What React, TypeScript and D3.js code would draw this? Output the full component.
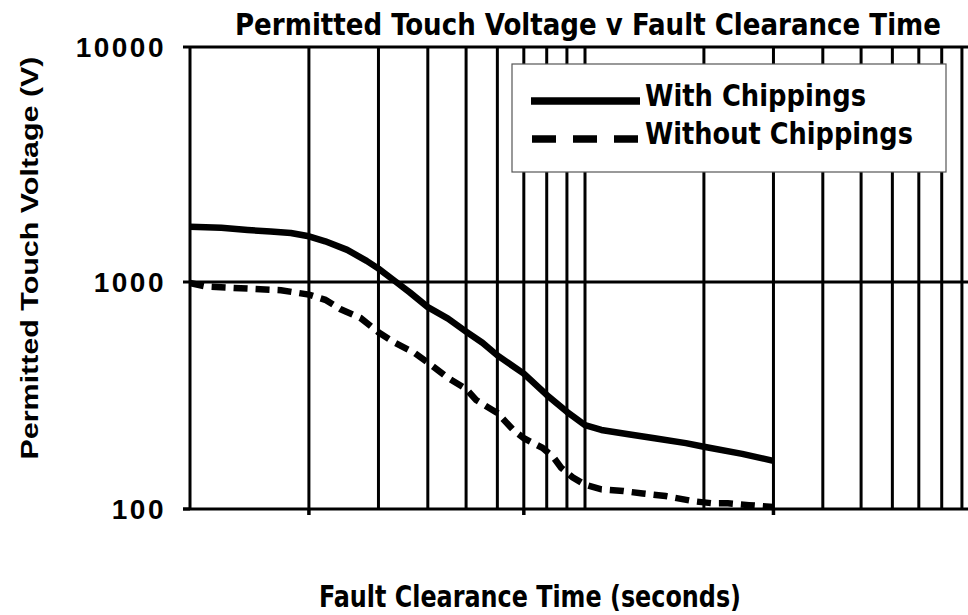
import * as d3 from "d3";

const W = 968;
const H = 615;

const chartTitle = "Permitted Touch Voltage v Fault Clearance Time";
const xTitle = "Fault Clearance Time (seconds)";
const yTitle = "Permitted Touch Voltage (V)";

const yTickValues = [100, 1000, 10000];
const yTickLabels = ["100", "1000", "10000"];
const xGridValues = [
  0.2, 0.3, 0.4, 0.5, 0.6, 0.7, 0.8, 0.9, 1, 2, 3, 4, 5, 6, 7, 8, 9,
];
const xTickMarks = [0.2, 0.7, 3];

const seriesNames = ["With Chippings", "Without Chippings"];

// fault clearance time (s) / permitted touch voltage (V)
const withTime = [
  0.1, 0.12, 0.14, 0.16, 0.18, 0.2, 0.22, 0.25, 0.28, 0.3, 0.33, 0.36, 0.4,
  0.45, 0.5, 0.55, 0.6, 0.7, 0.8, 0.9, 1.0, 1.1, 1.3, 1.5, 1.8, 2, 2.5, 3,
];
const withVolts = [
  1720, 1700, 1665, 1640, 1617, 1565, 1490, 1370, 1230, 1140, 1010, 900, 775,
  690, 605, 540, 475, 395, 318, 268, 234, 223, 213, 205, 195, 188, 175, 163,
];

const withoutTime = [
  0.1, 0.11, 0.14, 0.17, 0.2, 0.22, 0.24, 0.27, 0.3, 0.33, 0.37, 0.4, 0.45,
  0.5, 0.53, 0.6, 0.66, 0.7, 0.78, 0.83, 0.87, 0.93, 1.0, 1.1, 1.25, 1.4, 1.6,
  1.9, 2.1, 2.3, 2.6, 3,
];
const withoutVolts = [
  990, 955, 935, 920, 880, 835, 760, 695, 600, 540, 487, 442, 378, 338, 302,
  265, 222, 205, 186, 170, 152, 138, 128, 122, 120, 117, 114, 108, 106, 106,
  104, 102,
];

const condensed = "'Liberation Sans Narrow', 'DejaVu Sans Condensed', sans-serif";
const plain = "'Liberation Sans', Arial, sans-serif";

export default function App() {
  const left = 190;
  const right = 980; // plot runs past the cropped right edge
  const top = 47;
  const bottom = 509;

  const x = d3.scaleLog().domain([0.1, 10]).range([left, right]);
  const y = d3
    .scaleLog()
    .domain([100, 1000, 10000])
    .range([bottom, 282, top]);

  const line = d3
    .line<[number, number]>()
    .x((d) => x(d[0]))
    .y((d) => y(d[1]));

  const withPts = withTime.map((t, i) => [t, withVolts[i]] as [number, number]);
  const withoutPts = withoutTime.map(
    (t, i) => [t, withoutVolts[i]] as [number, number]
  );

  const grid = "#000";
  const gw = 3;

  return (
    <svg
      width={W}
      height={H}
      viewBox={`0 0 ${W} ${H}`}
      style={{ position: "absolute", left: 0, top: 0, background: "#fff" }}
    >
      <rect x={0} y={0} width={W} height={H} fill="#fff" />

      {/* title */}
      <text
        x={588}
        y={35}
        textAnchor="middle"
        fontFamily={condensed}
        fontWeight="bold"
        fontSize={30}
        textLength={706}
        lengthAdjust="spacingAndGlyphs"
      >
        {chartTitle}
      </text>

      {/* vertical grid */}
      {xGridValues.map((v) => (
        <line
          key={v}
          x1={x(v)}
          x2={x(v)}
          y1={top}
          y2={bottom}
          stroke={grid}
          strokeWidth={gw}
        />
      ))}
      {xTickMarks.map((v) => (
        <line
          key={"t" + v}
          x1={x(v)}
          x2={x(v)}
          y1={bottom}
          y2={bottom + 6}
          stroke={grid}
          strokeWidth={gw + 0.5}
        />
      ))}

      {/* horizontal grid */}
      <line
        x1={left}
        x2={W}
        y1={y(1000)}
        y2={y(1000)}
        stroke={grid}
        strokeWidth={gw}
      />

      {/* frame */}
      <line x1={left} x2={W} y1={top} y2={top} stroke={grid} strokeWidth={3} />
      <line
        x1={left - 7}
        x2={W}
        y1={bottom}
        y2={bottom}
        stroke={grid}
        strokeWidth={3}
      />
      <line x1={left} x2={left} y1={top} y2={bottom} stroke={grid} strokeWidth={3} />

      {/* y ticks and labels */}
      {yTickValues.map((v, i) => (
        <g key={v}>
          <line
            x1={left - 7}
            x2={left}
            y1={y(v)}
            y2={y(v)}
            stroke={grid}
            strokeWidth={3}
          />
          <text
            x={166}
            y={y(v) + 10}
            textAnchor="end"
            fontFamily={plain}
            fontSize={28}
            fontWeight="bold"
            letterSpacing={2.5}
          >
            {yTickLabels[i]}
          </text>
        </g>
      ))}

      {/* series */}
      <path
        d={line(withPts) ?? ""}
        fill="none"
        stroke="#000"
        strokeWidth={6.5}
        strokeLinejoin="round"
      />
      <path
        d={line(withoutPts) ?? ""}
        fill="none"
        stroke="#000"
        strokeWidth={6.5}
        strokeDasharray="14 8"
      />

      {/* legend */}
      <rect
        x={512}
        y={64}
        width={434}
        height={108}
        fill="#fff"
        stroke="#555"
        strokeWidth={1.2}
      />
      <line x1={531} x2={640} y1={101} y2={101} stroke="#000" strokeWidth={7.5} />
      <line
        x1={532}
        x2={640}
        y1={139}
        y2={139}
        stroke="#000"
        strokeWidth={7.5}
        strokeDasharray="24 17"
      />
      <text
        x={645}
        y={106}
        fontFamily={condensed}
        fontWeight="bold"
        fontSize={30}
        textLength={221}
        lengthAdjust="spacingAndGlyphs"
      >
        {seriesNames[0]}
      </text>
      <text
        x={645}
        y={144}
        fontFamily={condensed}
        fontWeight="bold"
        fontSize={30}
        textLength={268}
        lengthAdjust="spacingAndGlyphs"
      >
        {seriesNames[1]}
      </text>

      {/* axis titles */}
      <text
        transform="translate(38,258) rotate(-90)"
        textAnchor="middle"
        fontFamily={plain}
        fontWeight="bold"
        fontSize={24}
        textLength={403}
        lengthAdjust="spacingAndGlyphs"
      >
        {yTitle}
      </text>
      <text
        x={530}
        y={607}
        textAnchor="middle"
        fontFamily={condensed}
        fontWeight="bold"
        fontSize={30}
        textLength={422}
        lengthAdjust="spacingAndGlyphs"
      >
        {xTitle}
      </text>
    </svg>
  );
}
